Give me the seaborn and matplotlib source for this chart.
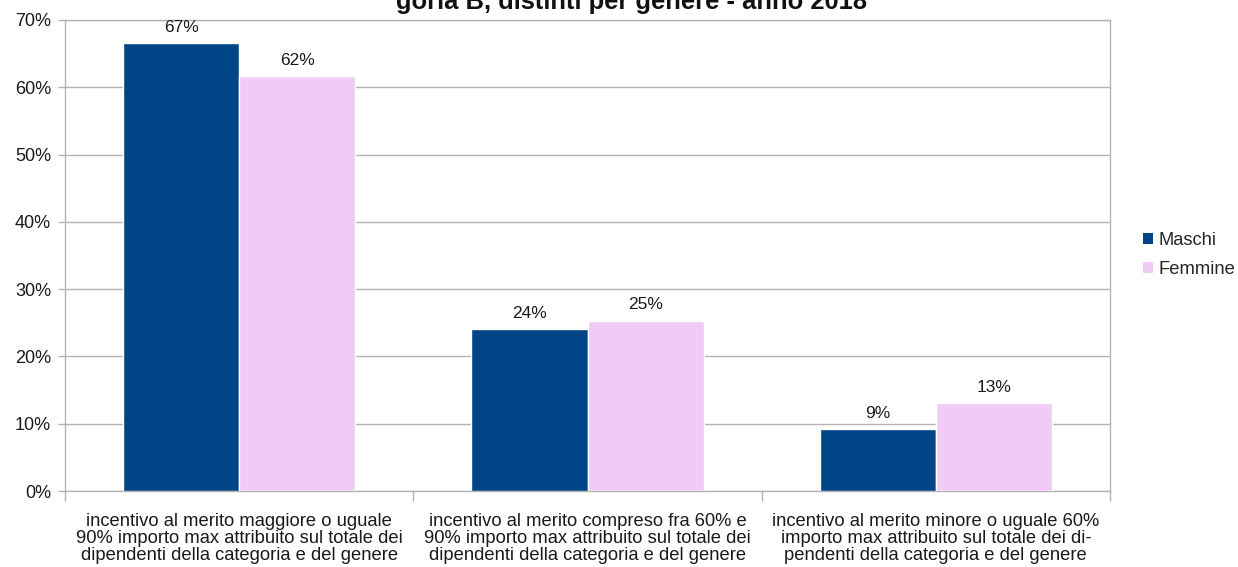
import pandas as pd
import matplotlib.pyplot as plt
import seaborn as sns
from matplotlib.ticker import FuncFormatter, FixedLocator
from matplotlib.patches import Patch

# --- Data ---
categories = [
    "incentivo al merito maggiore o uguale\n90% importo max attribuito sul totale dei\ndipendenti della categoria e del genere",
    "incentivo al merito compreso fra 60% e\n90% importo max attribuito sul totale dei\ndipendenti della categoria e del genere",
    "incentivo al merito minore o uguale 60%\nimporto max attribuito sul totale dei di-\npendenti della categoria e del genere",
]
series = ["Maschi", "Femmine"]
maschi = [66.6, 24.1, 9.2]
femmine = [61.7, 25.3, 13.1]
colors = ["#004586", "#f0cbf6"]

df = pd.DataFrame({
    "categoria": categories * 2,
    "genere": [series[0]] * 3 + [series[1]] * 3,
    "valore": maschi + femmine,
})

# --- Setup ---
sns.set_style("white")
plt.rcParams['font.family'] = ['Liberation Sans', 'DejaVu Sans']
grid_col = "#b3b3b3"
txt_col = "#1a1a1a"

fig = plt.figure(figsize=(12.38, 5.67), dpi=100)
ax = fig.add_axes([65 / 1238, 1 - 491 / 567, (1110 - 65) / 1238, (491 - 20) / 567])

sns.barplot(data=df, x="categoria", y="valore", hue="genere", palette=colors,
            width=0.667, gap=0, saturation=1, ax=ax, legend=False, zorder=3)

for cont in ax.containers:
    ax.bar_label(cont, fmt="%.0f%%", padding=6, fontsize=12.5, color=txt_col)

# --- Axes ---
ax.set_ylim(0, 70)
ax.set_xlim(-0.5, 2.5)
ax.set_yticks(range(0, 71, 10))
ax.yaxis.set_major_formatter(FuncFormatter(lambda v, p: f"{v:.0f}%"))
ax.yaxis.grid(True, color=grid_col, linewidth=1, zorder=0)
ax.set_axisbelow(True)
ax.set_xlabel("")
ax.set_ylabel("")
for s in ax.spines.values():
    s.set_color(grid_col)
    s.set_linewidth(1)

ax.tick_params(axis="y", which="major", left=True, length=5, width=1, color=grid_col,
               labelsize=13, labelcolor=txt_col, pad=5)
ax.tick_params(axis="x", which="major", bottom=False, labelsize=13.2, labelcolor=txt_col, pad=12)
ax.xaxis.set_minor_locator(FixedLocator([-0.5, 0.5, 1.5, 2.5]))
ax.tick_params(axis="x", which="minor", bottom=True, length=7, width=1, color=grid_col)
for lbl in ax.get_xticklabels():
    lbl.set_linespacing(1.02)

# --- Title (partly cut off at the top, as in the source) ---
fig.text(632 / 1238, 1 - 9 / 567, "goria B, distinti per genere - anno 2018",
         ha="center", va="baseline", fontsize=18.4, fontweight="bold", color="#111111")

# --- Legend ---
handles = [Patch(facecolor=c, edgecolor="none", label=s) for c, s in zip(colors, series)]
fig.legend(handles=handles, loc="center left", bbox_to_anchor=(1143 / 1238, 1 - 255 / 567),
           frameon=False, fontsize=13.2, handlelength=0.55, handleheight=0.55,
           handletextpad=0.3, labelspacing=0.65, borderaxespad=0, borderpad=0)

plt.savefig("out.png", dpi=100)
plt.close()
